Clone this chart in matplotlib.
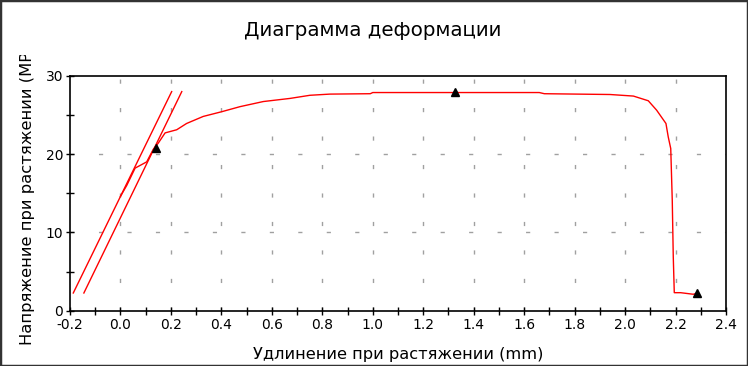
import numpy as np
import matplotlib
matplotlib.use("Agg")
import matplotlib.pyplot as plt
from matplotlib.patches import Rectangle
from matplotlib.transforms import Bbox

# stress-strain curve (elongation mm, stress MPa)
curve_x = [0.0, 0.025, 0.058, 0.104, 0.130, 0.150, 0.177, 0.223, 0.262, 0.328,
           0.401, 0.474, 0.566, 0.672, 0.751, 0.830, 0.990, 1.000, 1.660, 1.680,
           1.940, 2.033, 2.092, 2.125, 2.162, 2.171, 2.181, 2.187, 2.191, 2.195,
           2.220, 2.270, 2.284]
curve_y = [14.6, 16.0, 18.2, 19.0, 20.6, 21.4, 22.7, 23.1, 23.9, 24.8,
           25.4, 26.05, 26.7, 27.1, 27.5, 27.65, 27.7, 27.85, 27.85, 27.7,
           27.6, 27.4, 26.8, 25.6, 23.9, 22.2, 20.7, 14.1, 6.9, 2.3,
           2.3, 2.1, 2.2]

# elastic fit line and offset line
fit_x = [-0.187, 0.203]
fit_y = [2.26, 27.97]
offset_x = [-0.145, 0.243]
offset_y = [2.26, 27.97]

# marked points: yield, max, break
mark_x = [0.140, 1.326, 2.284]
mark_y = [20.8, 27.9, 2.3]

plt.rcParams['font.family'] = ['DejaVu Sans']
plt.rcParams['lines.scale_dashes'] = False

fig = plt.figure(figsize=(7.48, 3.66), dpi=100)
ax = fig.add_axes([70 / 748, 1 - 310.7 / 366, 656 / 748, 235 / 366])

ax.plot(curve_x, curve_y, color='#ff0000', lw=1.0)
ax.plot(fit_x, fit_y, color='#ff0000', lw=1.0)
ax.plot(offset_x, offset_y, color='#ff0000', lw=1.0)
ax.plot(mark_x, mark_y, linestyle='none', marker='^', color='black', markersize=6)

ax.set_xlim(-0.2, 2.4)
ax.set_ylim(0, 30)
ax.set_xticks(np.arange(-0.2, 2.41, 0.2))
ax.set_xticks(np.arange(-0.2, 2.41, 0.1), minor=True)
ax.set_yticks([0, 10, 20, 30])
ax.set_yticks([5, 15, 25], minor=True)
ax.set_xticklabels([f'{v:.1f}' for v in np.arange(-0.2, 2.41, 0.2)])
ax.tick_params(which='both', direction='inout', labelsize=10, width=1, pad=2)
ax.tick_params(which='major', length=6)
ax.tick_params(which='minor', length=6)

# sparse dashed grid
for gx in np.arange(0.0, 2.21, 0.2):
    ax.axvline(gx, color='#a0a0a0', lw=1, dashes=(3, 17.5), zorder=0)
for gy in [10, 20]:
    ax.axhline(gy, color='#a0a0a0', lw=1, dashes=(3, 17.5), zorder=0)

for s in ax.spines.values():
    s.set_linewidth(1.2)

fig.text(373 / 748, 1 - 31 / 366, 'Диаграмма деформации', ha='center', va='center',
         fontsize=14.3)
fig.text(398 / 748, 1 - 355 / 366, 'Удлинение при растяжении (mm)', ha='center',
         va='center', fontsize=11.7)
yl = fig.text(28 / 748, 1 - 345 / 366, 'Напряжение при растяжении (MPa)', ha='center',
              va='bottom', rotation=90, fontsize=11.8)
yl.set_clip_box(Bbox.from_extents(0, 0, 748, 366 - 55))
yl.set_clip_on(True)

fig.patches.append(Rectangle((0, 0), 1, 1, transform=fig.transFigure, fill=False,
                             edgecolor='#333333', lw=2.5))

fig.savefig('out.png', dpi=100)
